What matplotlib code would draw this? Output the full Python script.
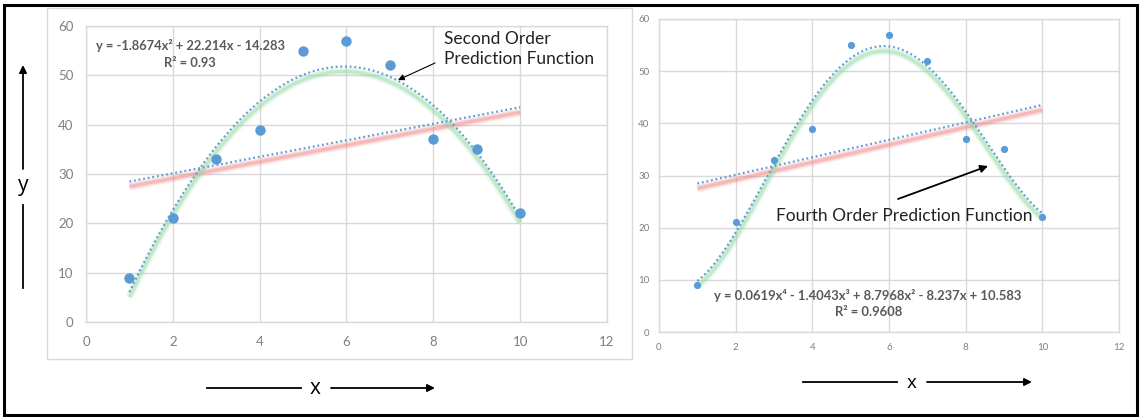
import numpy as np
import matplotlib
matplotlib.use("Agg")
import matplotlib.pyplot as plt
from matplotlib.patches import Rectangle
from matplotlib.transforms import offset_copy

plt.rcParams['font.family'] = ['Lato', 'DejaVu Sans']

# ---- data ----
x_vals = [1, 2, 3, 4, 5, 6, 7, 8, 9, 10]
y_vals = [9, 21, 33, 39, 55, 57, 52, 37, 35, 22]
x_ticks = [0, 2, 4, 6, 8, 10, 12]
y_ticks = [0, 10, 20, 30, 40, 50, 60]
eq_left = "y = -1.8674x² + 22.214x - 14.283"
r2_left = "R² = 0.93"
eq_right = "y = 0.0619x⁴ - 1.4043x³ + 8.7968x² - 8.237x + 10.583"
r2_right = "R² = 0.9608"

W, H = 1141, 417
fig = plt.figure(figsize=(W / 100, H / 100), dpi=100)
fig.patch.set_facecolor('white')

BLUE = '#5b9bd5'
GRID = '#d9d9d9'
TICK = '#7f7f7f'
EQ = '#595959'


def px_axes(x0, y0, x1, y1):
    return fig.add_axes([x0 / W, 1 - y1 / H, (x1 - x0) / W, (y1 - y0) / H])


def shadow(ax, xs, ys, color, dy=-5):
    tr = offset_copy(ax.transData, fig=fig, x=0, y=dy, units='dots')
    for lw, a in [(6, 0.12), (4, 0.22), (2.2, 0.35)]:
        ax.plot(xs, ys, color=color, lw=lw, alpha=a, transform=tr,
                solid_capstyle='butt', zorder=2)


def setup(ax, fs, padx, pady, msize, deg, eq, r2, eq_xy, r2_xy, eq_fs):
    ax.set_xlim(0, 12)
    ax.set_ylim(0, 60)
    ax.set_xticks(x_ticks)
    ax.set_yticks(y_ticks)
    ax.grid(True, color=GRID, lw=1)
    ax.set_axisbelow(True)
    for s in ax.spines.values():
        s.set_color(GRID)
        s.set_linewidth(1)
    ax.tick_params(length=0, labelcolor=TICK, labelsize=fs)
    ax.tick_params(axis='x', pad=padx)
    ax.tick_params(axis='y', pad=pady)
    xs = np.linspace(min(x_vals), max(x_vals), 300)
    lin = np.polyfit(x_vals, y_vals, 1)
    poly = np.polyfit(x_vals, y_vals, deg)
    shadow(ax, xs, np.polyval(lin, xs), '#f08080')
    shadow(ax, xs, np.polyval(poly, xs), '#90d8a0')
    ax.plot(xs, np.polyval(lin, xs), color=BLUE, lw=1.6,
            linestyle=(0, (0.8, 1.3)), zorder=3)
    ax.plot(xs, np.polyval(poly, xs), color=BLUE, lw=1.6,
            linestyle=(0, (0.8, 1.3)), zorder=3)
    ax.plot(x_vals, y_vals, 'o', color=BLUE, ms=msize, mec='none', zorder=4)
    fig.text(eq_xy[0] / W, 1 - eq_xy[1] / H, eq, ha='center', va='center',
             fontsize=eq_fs, fontweight='bold', color=EQ)
    fig.text(r2_xy[0] / W, 1 - r2_xy[1] / H, r2, ha='center', va='center',
             fontsize=eq_fs, fontweight='bold', color=EQ)


# outer border and left chart-area border
fig.add_artist(Rectangle((4 / W, 1 - 415 / H), 1133 / W, 410 / H,
                         transform=fig.transFigure, fill=False,
                         ec='black', lw=2.2))
fig.add_artist(Rectangle((47 / W, 1 - 359 / H), 585 / W, 351 / H,
                         transform=fig.transFigure, fill=False,
                         ec=GRID, lw=1))

ax1 = px_axes(86, 26, 607, 322)
setup(ax1, 9.5, 10, 9, 7.5, 2, eq_left, r2_left, (190, 45), (190, 63), 9.3)

ax2 = px_axes(659, 19, 1119, 332)
setup(ax2, 7, 8, 7, 5.2, 4, eq_right, r2_right, (868, 295), (869, 312), 9.4)


def fp(x, y):
    return (x, H - y)


arrow_kw = dict(arrowstyle='-|>', color='black', lw=1.3, mutation_scale=11,
                shrinkA=0, shrinkB=0)

# y label arrow (left panel)
fig.add_artist(plt.Line2D([23 / W, 23 / W], [1 - 288 / H, 1 - 205 / H],
                          color='black', lw=1.3))
ax1.annotate('', xy=fp(23, 65), xytext=fp(23, 169), xycoords='figure pixels',
             textcoords='figure pixels', arrowprops=arrow_kw)
fig.text(23 / W, 1 - 186 / H, 'y', ha='center', va='center', fontsize=15,
         family=['Open Sans', 'DejaVu Sans'])

# x label arrows
def xarrow(a0, a1, xc, b0, b1, y, fs):
    fig.add_artist(plt.Line2D([a0 / W, a1 / W], [1 - y / H, 1 - y / H],
                              color='black', lw=1.3))
    fig.text(xc / W, 1 - (y + 1) / H, 'x', ha='center', va='center',
             fontsize=fs, family=['Open Sans', 'DejaVu Sans'])
    ax1.annotate('', xy=fp(b1, y), xytext=fp(b0, y), xycoords='figure pixels',
                 textcoords='figure pixels', arrowprops=arrow_kw)


xarrow(207, 301, 315, 331, 435, 388, 15)
xarrow(803, 897, 912, 927, 1032, 382, 13.5)

# annotations
fig.text(444 / W, 1 - 49 / H, 'Second Order\nPrediction Function',
         ha='left', va='center', fontsize=12.5, linespacing=1.35,
         color='#222222')
ax1.annotate('', xy=fp(398, 80), xytext=fp(435, 63), xycoords='figure pixels',
             textcoords='figure pixels',
             arrowprops=dict(arrowstyle='-|>', color='black', lw=0.8,
                             mutation_scale=9, shrinkA=0, shrinkB=0))

fig.text(776 / W, 1 - 216 / H, 'Fourth Order Prediction Function',
         ha='left', va='center', fontsize=12.5, color='#222222')
ax2.annotate('', xy=fp(988, 166), xytext=fp(898, 199), xycoords='figure pixels',
             textcoords='figure pixels', arrowprops=arrow_kw)

fig.savefig('out.png', dpi=100, facecolor='white')
